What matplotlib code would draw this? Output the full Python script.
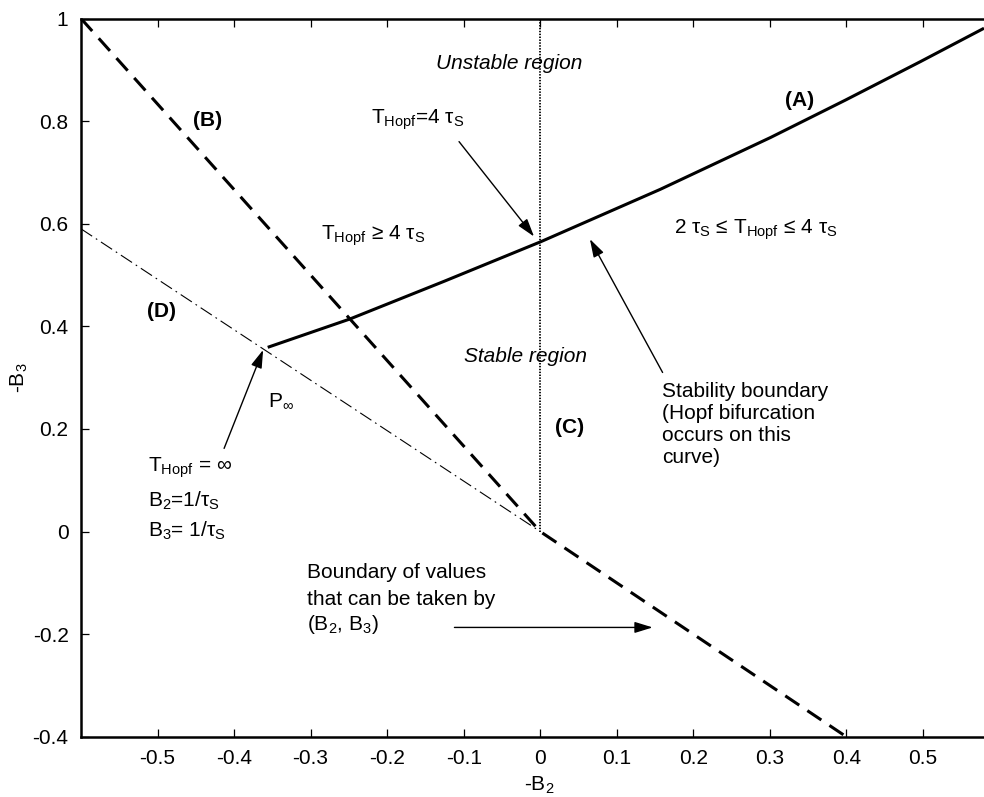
import numpy as np
import matplotlib
matplotlib.use("Agg")
import matplotlib.pyplot as plt

plt.rcParams['font.family'] = ['Liberation Sans', 'DejaVu Sans']
plt.rcParams['mathtext.fontset'] = 'custom'
plt.rcParams['mathtext.rm'] = 'Liberation Sans'
plt.rcParams['mathtext.it'] = 'Liberation Sans:italic'
plt.rcParams['font.size'] = 15

# curve (A): stability boundary
a_x = [-0.356, -0.249, -0.125, 0.001, 0.157, 0.301, 0.399, 0.497, 0.580]
a_y = [0.359, 0.414, 0.488, 0.565, 0.667, 0.768, 0.841, 0.916, 0.981]
# curve (B): boundary of values (B2, B3)
b_x = [-0.6, 0.0, 0.4]
b_y = [1.0, 0.0, -0.4]
# line (C): B2 = 0
c_x = [0.0, 0.0]
c_y = [0.0, 1.0]
# line (D)
d_x = [-0.6, 0.0]
d_y = [0.59, 0.0]

xticks = [-0.5, -0.4, -0.3, -0.2, -0.1, 0.0, 0.1, 0.2, 0.3, 0.4, 0.5]
xticklabels = ['-0.5', '-0.4', '-0.3', '-0.2', '-0.1', '0', '0.1', '0.2', '0.3', '0.4', '0.5']
yticks = [-0.4, -0.2, 0.0, 0.2, 0.4, 0.6, 0.8, 1.0]
yticklabels = ['-0.4', '-0.2', '0', '0.2', '0.4', '0.6', '0.8', '1']

fig = plt.figure(figsize=(9.84, 7.97), dpi=100)
ax = fig.add_axes([81/984, (797-736.7)/797, 1 - 81/984, (736.7-18.5)/797])

ax.plot(a_x, a_y, color='k', lw=2.2, solid_capstyle='butt', solid_joinstyle='round')
ax.plot(b_x, b_y, color='k', lw=2.2, dashes=(5.5, 3.2))
ax.plot(c_x, c_y, color='k', lw=1.3, dashes=(0.8, 0.8))
ax.plot(d_x, d_y, color='k', lw=0.8, dashes=(12, 4, 1.5, 4))

ax.set_xlim(-0.6, 0.58)
ax.set_ylim(-0.4, 1.0)
ax.set_xticks(xticks)
ax.set_xticklabels(xticklabels)
ax.set_yticks(yticks)
ax.set_yticklabels(yticklabels)
ax.tick_params(direction='in', length=5.5, width=0.9, top=True, right=False, labelsize=15)
ax.tick_params(axis='y', pad=9)
ax.tick_params(axis='x', pad=9)
for s in ['left', 'top', 'bottom']:
    ax.spines[s].set_linewidth(1.8)
ax.spines['right'].set_visible(False)

ax.set_xlabel('-B$_\\mathrm{2}$', fontsize=15, labelpad=5)
ax.xaxis.label.set_x(0.507)
ax.set_ylabel('-B$_\\mathrm{3}$', fontsize=15, labelpad=2)

bold = dict(fontsize=15, fontweight='bold', ha='center', va='center')
ax.text(-0.435, 0.802, '(B)', **bold)
ax.text(0.339, 0.841, '(A)', **bold)
ax.text(0.038, 0.202, '(C)', **bold)
ax.text(-0.495, 0.428, '(D)', **bold)

ax.text(-0.040, 0.913, 'Unstable region', style='italic', ha='center', va='center')
ax.text(-0.099, 0.341, 'Stable region', style='italic', ha='left', va='center')

ax.text(-0.221, 0.794, 'T$_\\mathrm{Hopf}$=4 τ$_\\mathrm{S}$', va='baseline')
ax.text(-0.286, 0.568, 'T$_\\mathrm{Hopf}$ ≥ 4 τ$_\\mathrm{S}$', va='baseline')
ax.text(0.175, 0.581, '2 τ$_\\mathrm{S}$ ≤ T$_\\mathrm{Hopf}$ ≤ 4 τ$_\\mathrm{S}$', va='baseline')
ax.text(0.159, 0.292, 'Stability boundary\n(Hopf bifurcation\noccurs on this\ncurve)',
        va='top', ha='left', linespacing=1.2)
ax.text(-0.356, 0.243, 'P$_\\mathrm{∞}$', va='baseline')
ax.text(-0.513, 0.117, 'T$_\\mathrm{Hopf}$ = ∞', va='baseline')
ax.text(-0.513, 0.048, 'B$_\\mathrm{2}$=1/τ$_\\mathrm{S}$', va='baseline')
ax.text(-0.513, -0.010, 'B$_\\mathrm{3}$= 1/τ$_\\mathrm{S}$', va='baseline')
ax.text(-0.305, -0.091, 'Boundary of values', va='baseline')
ax.text(-0.305, -0.143, 'that can be taken by', va='baseline')
ax.text(-0.305, -0.192, '(B$_\\mathrm{2}$, B$_\\mathrm{3}$)', va='baseline')

arr = dict(arrowstyle='-|>,head_length=0.55,head_width=0.17', mutation_scale=20,
           lw=1, color='k', shrinkA=0, shrinkB=0)
ax.annotate('', xy=(-0.008, 0.575), xytext=(-0.106, 0.760), arrowprops=arr)
ax.annotate('', xy=(0.065, 0.570), xytext=(0.160, 0.310), arrowprops=arr)
ax.annotate('', xy=(-0.362, 0.354), xytext=(-0.413, 0.162), arrowprops=arr)
ax.annotate('', xy=(0.147, -0.187), xytext=(-0.112, -0.187), arrowprops=arr)

fig.savefig('out.png', dpi=100)
